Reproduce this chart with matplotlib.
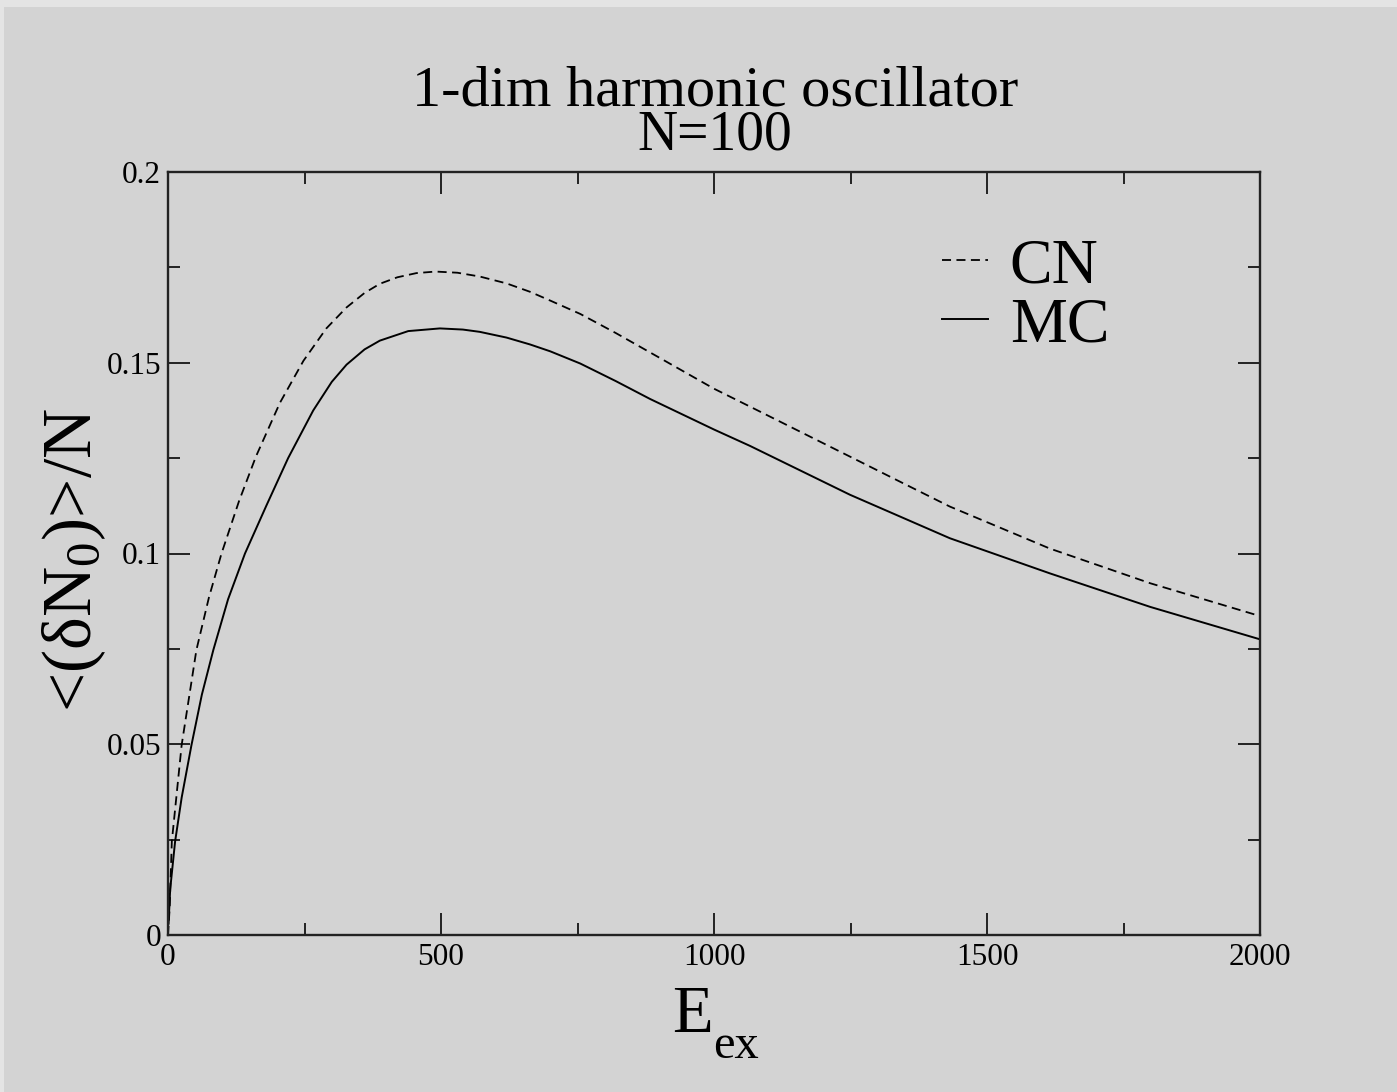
import numpy as np
import matplotlib.pyplot as plt
from matplotlib.patches import Rectangle
from matplotlib.ticker import MultipleLocator

plt.rcParams['font.family'] = ['Liberation Serif', 'DejaVu Serif']
plt.rcParams['mathtext.fontset'] = 'custom'
plt.rcParams['mathtext.rm'] = 'Liberation Serif'
plt.rcParams['mathtext.it'] = 'Liberation Serif:italic'

#   Datos
E_cn = [0, 3, 7, 25, 52, 75, 98, 130, 161, 205, 248, 290, 327, 360, 388, 420, 455, 490,
        530, 571, 620, 663, 700, 755, 820, 883, 1000, 1066, 1249, 1341, 1432, 1615, 1799,
        2000]
dN_cn = [0.0, 0.007, 0.0245, 0.0498, 0.0747, 0.0885, 0.100, 0.1137, 0.1254, 0.1395,
         0.1505, 0.1590, 0.1645, 0.1683, 0.1707, 0.1724, 0.1735, 0.1739, 0.1736, 0.1726,
         0.1708, 0.1686, 0.1663, 0.1628, 0.1578, 0.1527, 0.1432, 0.1385, 0.1254, 0.1188,
         0.1123, 0.1013, 0.0922, 0.0836]

E_mc = [1, 4, 13, 25, 43, 62, 83, 110, 141, 180, 220, 266, 300, 327, 360, 388, 440, 498,
        540, 571, 620, 663, 700, 755, 820, 883, 1000, 1066, 1249, 1432, 1615, 1799, 2000]
dN_mc = [0.003, 0.012, 0.0245, 0.036, 0.0498, 0.0630, 0.0747, 0.0880, 0.100, 0.1125,
         0.1250, 0.1375, 0.1450, 0.1495, 0.1535, 0.1558, 0.1583, 0.1590, 0.1587, 0.1581,
         0.1566, 0.1548, 0.1530, 0.1498, 0.1452, 0.1405, 0.1325, 0.1282, 0.1154, 0.104,
         0.0948, 0.086, 0.0775]

gris = '#d3d3d3'
W, H = 1397, 1092

fig = plt.figure(figsize=(W/100, H/100), dpi=100, facecolor='#e4e4e4')
fig.patches.append(Rectangle((4/W, 0), 1, 1 - 7/H, transform=fig.transFigure,
                             facecolor=gris, edgecolor='none', zorder=-10))
ax = fig.add_axes([168/W, 1 - 935/H, (1260-168)/W, (935-172)/H])
ax.set_facecolor(gris)

ax.plot(E_cn, dN_cn, color='k', lw=1.3, linestyle=(0, (5, 3)), label='CN')
ax.plot(E_mc, dN_mc, color='k', lw=1.4, label='MC')

ax.set_xlim(0, 2000)
ax.set_ylim(0, 0.2)
ax.xaxis.set_minor_locator(MultipleLocator(250))
ax.yaxis.set_minor_locator(MultipleLocator(0.025))
ax.set_xticks([0, 500, 1000, 1500, 2000], ['0', '500', '1000', '1500', '2000'])
ax.set_yticks([0, 0.05, 0.1, 0.15, 0.2], ['0', '0.05', '0.1', '0.15', '0.2'])
ax.tick_params(which='both', direction='in', top=True, right=True, width=1.4,
               labelsize=22.5, color='#222222')
ax.tick_params(which='major', length=15.8)
ax.tick_params(which='minor', length=8.6)
ax.tick_params(axis='x', pad=6)
ax.tick_params(axis='y', pad=5)
for s in ax.spines.values():
    s.set_linewidth(1.7)
    s.set_color('#222222')

fig.text(715/W, 1 - 105/H, '1-dim harmonic oscillator', ha='center', va='baseline',
         fontsize=42)
fig.text(715/W, 1 - 149/H, 'N=100', ha='center', va='baseline', fontsize=40)

fig.text(713/W, 1 - 1032/H, 'E', ha='right', va='baseline', fontsize=48)
fig.text(713/W, 1 - 1058/H, 'ex', ha='left', va='baseline', fontsize=35)
fig.text(74/W, 1 - 560/H, r'<(δN$_0$)>/N', rotation=90, ha='center', va='center',
         fontsize=50)

ax.legend(loc='upper left', bbox_to_anchor=(942/W, 1 - 238/H), bbox_transform=fig.transFigure,
          frameon=False, fontsize=46, handlelength=0.72, handletextpad=0.34,
          labelspacing=0.0, borderpad=0, borderaxespad=0)

fig.savefig('out.png', dpi=100, facecolor=fig.get_facecolor())
